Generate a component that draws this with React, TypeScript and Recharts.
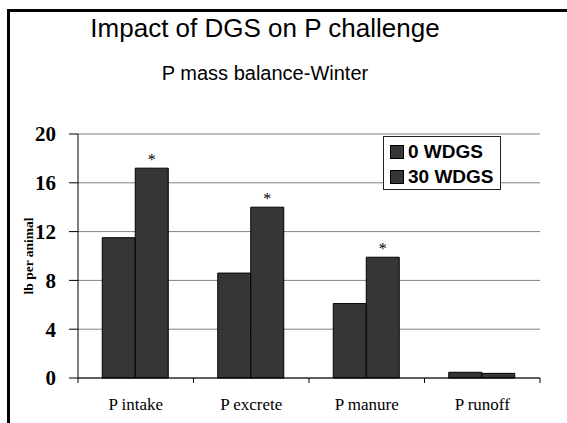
import React from 'react';
import {
  BarChart,
  Bar,
  XAxis,
  YAxis,
  CartesianGrid,
  Legend,
  LabelList,
} from 'recharts';

// Data
const categories = ['P intake', 'P excrete', 'P manure', 'P runoff'];
const wdgs0 = [11.5, 8.6, 6.1, 0.47];
const wdgs30 = [17.2, 14.0, 9.9, 0.38];
const significance = ['*', '*', '*', ''];
const yTicks = [0, 4, 8, 12, 16, 20];

const seriesNames = ['0 WDGS', '30 WDGS'];
const BAR_FILL = '#363636';
const SERIF = '"Times New Roman", "Liberation Serif", serif';

const chartData = categories.map((name, i) => ({
  name,
  w0: wdgs0[i],
  w30: wdgs30[i],
  sig: significance[i],
}));

// Legend box in the upper right of the plot
const BoxLegend = () => (
  <div
    style={{
      width: 118,
      height: 54,
      background: '#fff',
      border: '1px solid #222',
      fontFamily: 'Arial, "Liberation Sans", sans-serif',
      fontWeight: 'bold',
      fontSize: 19,
      color: '#000',
      boxSizing: 'border-box',
      paddingLeft: 6,
      paddingTop: 2,
    }}
  >
    {seriesNames.map((s) => (
      <div key={s} style={{ display: 'flex', alignItems: 'center', height: 25 }}>
        <div
          style={{
            width: 12,
            height: 12,
            background: BAR_FILL,
            border: '1px solid #000',
            marginRight: 4,
          }}
        />
        <span>{s}</span>
      </div>
    ))}
  </div>
);

// Category label plus tick marks on the category boundaries (Excel style)
const CategoryTick = ({ x, y, payload, index, width, visibleTicksCount }: any) => {
  const n = visibleTicksCount || categories.length;
  const band = width / n;
  const axisY = y - 20;
  const left = x - band / 2;
  const right = x + band / 2;
  return (
    <g>
      <line x1={left} x2={left} y1={axisY} y2={axisY + 5} stroke="#000" />
      {index === n - 1 && <line x1={right} x2={right} y1={axisY} y2={axisY + 5} stroke="#000" />}
      <text x={x} y={y} dy="0.71em" textAnchor="middle" fill="#000" fontSize={17} fontFamily={SERIF}>
        {payload.value}
      </text>
    </g>
  );
};

const YLabel = ({ viewBox }: any) => {
  const cx = viewBox.x + 33;
  const cy = viewBox.y + viewBox.height / 2;
  return (
    <text
      x={cx}
      y={cy}
      transform={`rotate(-90, ${cx}, ${cy})`}
      textAnchor="middle"
      fontFamily={SERIF}
      fontWeight="bold"
      fontSize={13.5}
      fill="#000"
    >
      lb per animal
    </text>
  );
};

export default function App() {
  return (
    <div style={{ position: 'absolute', left: 0, top: 0, width: 567, height: 423, background: '#fff' }}>
      <div
        style={{
          position: 'absolute',
          left: 7,
          top: 9,
          width: 620,
          height: 500,
          border: '3px solid #000',
          boxSizing: 'border-box',
        }}
      />
      <div
        style={{
          position: 'absolute',
          left: 0,
          width: 530,
          top: 13,
          textAlign: 'center',
          fontFamily: 'Arial, "Liberation Sans", sans-serif',
          fontSize: 26,
          color: '#000',
        }}
      >
        Impact of DGS on P challenge
      </div>
      <div
        style={{
          position: 'absolute',
          left: 0,
          width: 530,
          top: 62,
          textAlign: 'center',
          fontFamily: 'Arial, "Liberation Sans", sans-serif',
          fontSize: 20,
          color: '#000',
        }}
      >
        P mass balance-Winter
      </div>
      <div style={{ position: 'absolute', left: 0, top: 0 }}>
        <BarChart
          width={567}
          height={423}
          data={chartData}
          margin={{ top: 134, right: 27, left: 0, bottom: 0 }}
          barCategoryGap="21%"
          barGap={0}
        >
          <CartesianGrid vertical={false} stroke="#808080" strokeWidth={1} />
          <XAxis
            dataKey="name"
            height={45}
            axisLine={{ stroke: '#000' }}
            tickLine={false}
            tickSize={6}
            tickMargin={14}
            interval={0}
            tick={<CategoryTick />}
          />
          <XAxis
            xAxisId="top"
            dataKey="name"
            orientation="top"
            height={0}
            tick={false}
            tickLine={false}
            axisLine={{ stroke: '#000' }}
          />
          <YAxis
            domain={[0, 20]}
            ticks={yTicks}
            width={78}
            axisLine={{ stroke: '#000' }}
            tickLine={{ stroke: '#000' }}
            tickSize={9}
            tickMargin={13}
            tick={{
              fill: '#000',
              fontSize: 21,
              fontWeight: 'bold',
              fontFamily: SERIF,
            }}
            label={{ content: <YLabel /> }}
          />
          <YAxis
            yAxisId="right"
            orientation="right"
            domain={[0, 20]}
            width={0}
            tick={false}
            tickLine={false}
            axisLine={{ stroke: '#000' }}
          />
          <Legend
            content={<BoxLegend />}
            layout="horizontal"
            verticalAlign="middle"
            align="center"
            wrapperStyle={{ position: 'absolute', left: 383, top: 136, width: 118 }}
          />
          <Bar dataKey="w0" name={seriesNames[0]} fill={BAR_FILL} stroke="#000" strokeWidth={1} isAnimationActive={false} />
          <Bar dataKey="w30" name={seriesNames[1]} fill={BAR_FILL} stroke="#000" strokeWidth={1} isAnimationActive={false}>
            <LabelList
              dataKey="sig"
              position="top"
              offset={3}
              fill="#000"
              fontSize={16}
              fontFamily={SERIF}
            />
          </Bar>
        </BarChart>
      </div>
    </div>
  );
}
